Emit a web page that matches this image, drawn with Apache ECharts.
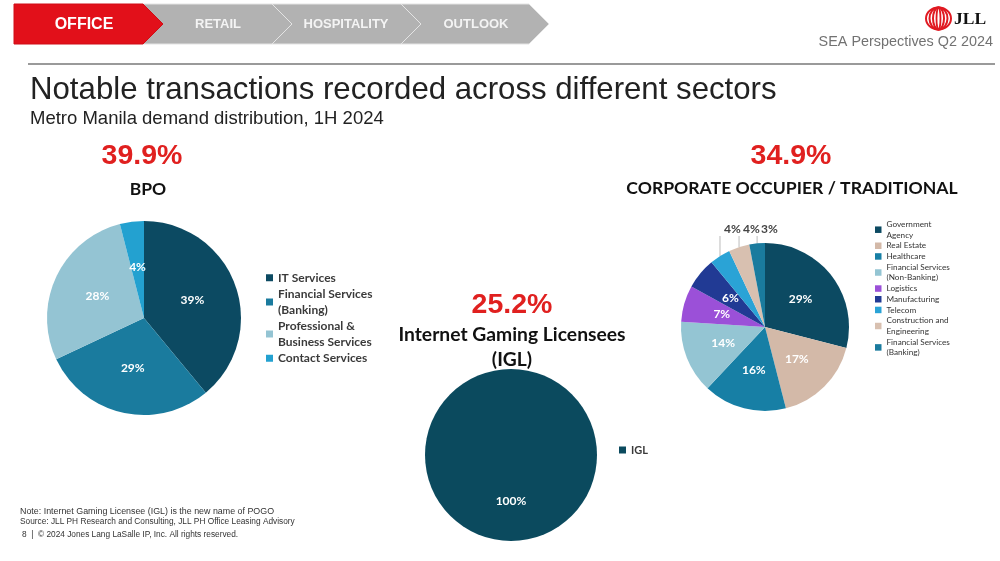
<!DOCTYPE html>
<html>
<head>
<meta charset="utf-8">
<script src="https://cdn.jsdelivr.net/npm/echarts@6/dist/echarts.min.js"></script>
<style>
html,body{margin:0;padding:0;background:#fff;}
#main{width:1000px;height:561px;}
</style>
</head>
<body>
<div id="main"></div>
<script>
// ---- Data ----
const navTabs = ['OFFICE', 'RETAIL', 'HOSPITALITY', 'OUTLOOK'];
const sectorTitles = ['BPO', 'Internet Gaming Licensees\n(IGL)', 'CORPORATE OCCUPIER / TRADITIONAL'];
const sectorShares = ['39.9%', '25.2%', '34.9%'];

const bpoCategories = ['IT Services', 'Financial Services\n(Banking)', 'Professional &\nBusiness Services', 'Contact Services'];
const bpoValues = [39, 29, 28, 4];

const iglCategories = ['IGL'];
const iglValues = [100];

const corpCategories = ['Government\nAgency', 'Real Estate', 'Healthcare', 'Financial Services\n(Non-Banking)', 'Logistics', 'Manufacturing', 'Telecom', 'Construction and\nEngineering', 'Financial Services\n(Banking)'];
const corpValues = [29, 17, 16, 14, 7, 6, 4, 4, 3];

const footNotes = [
  'Note: Internet Gaming Licensee (IGL) is the new name of POGO',
  'Source: JLL PH Research and Consulting, JLL PH Office Leasing Advisory',
  '8  |  \u00A9 2024 Jones Lang LaSalle IP, Inc. All rights reserved.'
];

// ---- Styles ----
const bpoColors = ['#0c4a62', '#1a7b9e', '#94c4d3', '#23a1d0'];
const iglColors = ['#0b4a5e'];
const corpColors = ['#0c4a62', '#d3b9a8', '#177fa5', '#94c5d3', '#9b50d8', '#213a94', '#2aa3d6', '#d8c0b0', '#1a7b9e'];
const FONT = 'Lato, "Noto Sans", sans-serif';
const ARIAL = '"Liberation Sans", Arial, sans-serif';

const chart = echarts.init(document.getElementById('main'), null, {renderer: 'canvas'});

function pieData(names, values, colors, extra) {
  return names.map((n, i) => Object.assign({name: n, value: values[i], itemStyle: {color: colors[i]}}, extra ? extra(i) : {}));
}

const corpCenter = [765, 327], corpR = 84;

// nav shapes
const navY0 = 4, navY1 = 44, navYm = 24;
const navCorners = [143, 272, 401, 529];
const navTip = 20;
const navGraphics = [];
for (let i = navTabs.length - 1; i >= 0; i--) {
  const left = i === 0 ? 14 : navCorners[i - 1];
  const pts = [[left, navY0], [navCorners[i], navY0], [navCorners[i] + navTip, navYm], [navCorners[i], navY1], [left, navY1]];
  if (i > 0) pts.push([left + navTip, navYm]);
  navGraphics.push({
    type: 'polygon', shape: {points: pts},
    style: {fill: i === 0 ? '#e2101a' : '#b2b2b2', stroke: i === 0 ? '#d00d16' : '#e4e4e4', lineWidth: 1}
  });
}
const navCenters = [84, 218, 346, 476];
navTabs.forEach((t, i) => {
  navGraphics.push({
    type: 'text', x: navCenters[i], y: navYm + 0.5,
    style: {text: t, fill: i === 0 ? '#ffffff' : '#f4f4f4', font: 'bold ' + (i === 0 ? 16 : 13) + 'px ' + ARIAL, align: 'center', verticalAlign: 'middle'}
  });
});

const graphics = navGraphics.concat([
  // JLL logo
  {type: 'ellipse', shape: {cx: 938.5, cy: 18.5, rx: 12.5, ry: 11}, style: {fill: 'none', stroke: '#e01a22', lineWidth: 2}},
  {type: 'ellipse', shape: {cx: 938.5, cy: 18.5, rx: 9, ry: 11}, style: {fill: 'none', stroke: '#e01a22', lineWidth: 2}},
  {type: 'ellipse', shape: {cx: 938.5, cy: 18.5, rx: 5.5, ry: 11}, style: {fill: 'none', stroke: '#e01a22', lineWidth: 2}},
  {type: 'ellipse', shape: {cx: 938.5, cy: 18.5, rx: 2, ry: 11}, style: {fill: 'none', stroke: '#e01a22', lineWidth: 1.8}},
  {type: 'text', x: 954, y: 19, style: {text: 'JLL', fill: '#111', font: 'bold 17.5px "Liberation Serif", serif', verticalAlign: 'middle'}},
  {type: 'text', x: 993, y: 42, style: {text: 'SEA Perspectives Q2 2024', fill: '#727272', font: '14.4px ' + ARIAL, align: 'right', verticalAlign: 'middle'}},
  // divider
  {type: 'line', shape: {x1: 28, y1: 64, x2: 995, y2: 64}, style: {stroke: '#9a9a9a', lineWidth: 2}},
  // titles
  {type: 'text', x: 30, y: 90, style: {text: 'Notable transactions recorded across different sectors', fill: '#222', font: '31.2px ' + ARIAL, verticalAlign: 'middle'}},
  {type: 'text', x: 30, y: 119, style: {text: 'Metro Manila demand distribution, 1H 2024', fill: '#222', font: '18.5px ' + ARIAL, verticalAlign: 'middle'}},
  // sector headings
  {type: 'text', x: 142, y: 156, style: {text: sectorShares[0], fill: '#e0201f', font: 'bold 28.5px ' + ARIAL, align: 'center', verticalAlign: 'middle'}},
  {type: 'text', x: 148, y: 189, style: {text: sectorTitles[0], fill: '#111', font: 'bold 17.5px ' + FONT, align: 'center', verticalAlign: 'middle'}},
  {type: 'text', x: 512, y: 305, style: {text: sectorShares[1], fill: '#e0201f', font: 'bold 28.5px ' + ARIAL, align: 'center', verticalAlign: 'middle'}},
  {type: 'text', x: 512, y: 347, style: {text: sectorTitles[1], fill: '#111', font: 'bold 19.3px ' + FONT, align: 'center', verticalAlign: 'middle', lineHeight: 25}},
  {type: 'text', x: 791, y: 156, style: {text: sectorShares[2], fill: '#e0201f', font: 'bold 28.5px ' + ARIAL, align: 'center', verticalAlign: 'middle'}},
  {type: 'text', x: 792, y: 188, style: {text: sectorTitles[2], fill: '#111', font: 'bold 17.6px ' + FONT, align: 'center', verticalAlign: 'middle'}},
  // footer
  {type: 'text', x: 20, y: 512, style: {text: footNotes[0], fill: '#333', font: '8.9px ' + ARIAL, verticalAlign: 'middle'}},
  {type: 'text', x: 20, y: 522, style: {text: footNotes[1], fill: '#333', font: '8.3px ' + ARIAL, verticalAlign: 'middle'}},
  {type: 'text', x: 22, y: 535, style: {text: footNotes[2], fill: '#333', font: '8.3px ' + ARIAL, verticalAlign: 'middle'}}
]);

const insideLabel = {show: true, position: 'inside', formatter: '{c}%', color: '#fff', fontWeight: 'bold', fontSize: 12, fontFamily: FONT};
const legendText = (size, lh) => ({fontSize: size, lineHeight: lh, color: '#3a3a3a', fontFamily: FONT, fontWeight: 'bold'});

const option = {
  animation: false,
  backgroundColor: '#ffffff',
  graphic: {elements: graphics},
  legend: [
    {data: bpoCategories, orient: 'vertical', left: 266, top: 270, padding: 0, itemWidth: 7, itemHeight: 7, itemGap: 1, icon: 'rect', textStyle: legendText(12, 15.5)},
    {data: iglCategories, orient: 'vertical', left: 619, top: 443, padding: 0, itemWidth: 7, itemHeight: 7, itemGap: 1, icon: 'rect', textStyle: legendText(11, 14)},
    {data: corpCategories, orient: 'vertical', left: 875, top: 219, padding: 0, itemWidth: 6.5, itemHeight: 6.5, itemGap: 0, icon: 'rect', textStyle: Object.assign(legendText(8.2, 10.7), {fontWeight: 'normal', color: '#333'})}
  ],
  series: [
    {
      name: 'BPO sector', type: 'pie', center: [144, 318], radius: 97, startAngle: 90,
      label: insideLabel, labelLine: {show: false}, emphasis: {disabled: true},
      data: pieData(bpoCategories, bpoValues, bpoColors)
    },
    {
      name: 'IGL sector', type: 'pie', center: [511, 455], radius: 86, startAngle: 90,
      label: insideLabel, labelLine: {show: false}, emphasis: {disabled: true},
      data: pieData(iglCategories, iglValues, iglColors)
    },
    {
      name: 'Corporate sector', type: 'pie', center: corpCenter, radius: corpR, startAngle: 90,
      label: insideLabel, labelLine: {show: false}, emphasis: {disabled: true},
      data: pieData(corpCategories, corpValues, corpColors, i => i >= 6 ? {
        label: {position: 'outside', color: '#444', fontSize: 12, fontWeight: 'bold'},
        labelLine: {show: true, length: 6, length2: 0, lineStyle: {color: '#bcbcbc', width: 1}}
      } : {}),
      labelLayout: function (p) {
        if (p.dataIndex < 6 || !p.labelLinePoints) return {};
        const a = p.labelLinePoints[0];
        const ly = corpCenter[1] - corpR - 14;
        const lineTop = corpCenter[1] - corpR - 7;
        return {
          x: a[0] + 4, y: ly, align: 'left', verticalAlign: 'middle',
          labelLinePoints: [[a[0], a[1]], [a[0], lineTop], [a[0], lineTop]]
        };
      }
    }
  ]
};
chart.setOption(option);
</script>
</body>
</html>
